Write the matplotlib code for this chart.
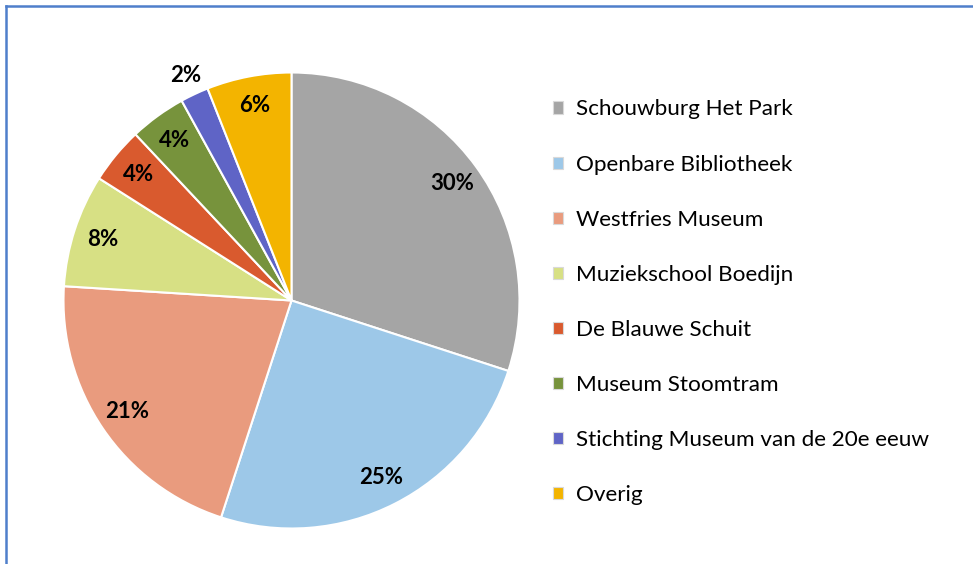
import matplotlib.pyplot as plt
from matplotlib.patches import Patch
from matplotlib.lines import Line2D

# data
labels = ['Schouwburg Het Park',
          'Openbare Bibliotheek',
          'Westfries Museum',
          'Muziekschool Boedijn',
          'De Blauwe Schuit',
          'Museum Stoomtram',
          'Stichting Museum van de 20e eeuw',
          'Overig',
          ]
shares = [30, 25, 21, 8, 4, 4, 2, 6]
colors = ['#A5A5A5', '#9DC8E8', '#E99B7E', '#D7E084',
          '#D95A2E', '#77933C', '#5F64C6', '#F3B400']

plt.rcParams['font.family'] = ['Lato', 'DejaVu Sans']

W, H = 973, 564
fig = plt.figure(figsize=(W / 100, H / 100), dpi=100)

# pie axes, square in pixels
cx, cy, r = 291.5, 300.5, 228
ax = fig.add_axes([(cx - r) / W, 1 - (cy + r) / H, 2 * r / W, 2 * r / H])

wedges, texts, autotexts = ax.pie(
    shares, colors=colors, startangle=90, counterclock=False,
    radius=1, autopct='%1.0f%%', pctdistance=0.87,
    wedgeprops=dict(edgecolor='white', linewidth=1.5),
    textprops=dict(fontsize=16, fontweight='bold', color='black'))

# the small slice has its label outside
autotexts[6].set_position(tuple(1.09 / 0.87 * v for v in autotexts[6].get_position()))

ax.set_xlim(-1, 1)
ax.set_ylim(-1, 1)
ax.set_aspect('auto')
ax.axis('off')

# legend
handles = [Patch(facecolor=c, edgecolor='#D9D9D9', linewidth=0.8) for c in colors]
fig.legend(handles, labels, loc='upper left',
           bbox_to_anchor=(553 / W, 1 - 99.5 / H),
           frameon=False, fontsize=16.2, borderpad=0, borderaxespad=0,
           handlelength=0.45, handleheight=0.45, handletextpad=0.58,
           labelspacing=1.56)

# chart border (only the top and left edges are in view)
fig.add_artist(Line2D([5.5 / W, 5.5 / W], [0, 1 - 6 / H], color='#4F7FCB', linewidth=1.8,
                      transform=fig.transFigure))
fig.add_artist(Line2D([5.5 / W, 1], [1 - 6 / H, 1 - 6 / H], color='#4F7FCB', linewidth=1.8,
                      transform=fig.transFigure))

fig.savefig('out.png', dpi=100)
